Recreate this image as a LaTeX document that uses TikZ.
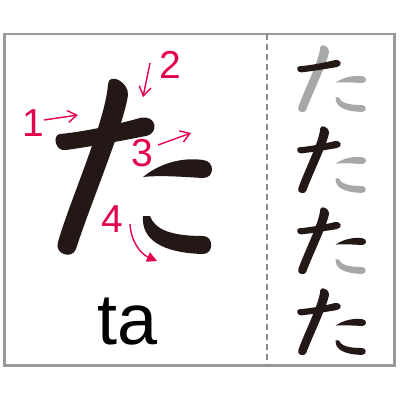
\documentclass[tikz,border=0pt]{standalone}
\usepackage{fontspec}
\setmainfont{Liberation Sans}
\usepackage{tikz}
\usetikzlibrary{arrows.meta}
\definecolor{ink}{HTML}{231815}
\definecolor{faint}{HTML}{A8A8A8}
\definecolor{mark}{HTML}{E4004F}
\definecolor{rulec}{HTML}{999999}
\tikzset{
  frame/.style={draw=rulec,line width=2.5pt},
  divider/.style={draw=rulec!90!black,line width=2pt,dash pattern=on 6pt off 4pt},
  num/.style={text=mark,font=\fontsize{39}{39}\selectfont,inner sep=0pt,anchor=base},
  hint/.style={draw=mark,line width=1.4pt,-{Straight Barb[length=9pt,width=12pt]}},
  hintc/.style={draw=mark,line width=1.4pt,-{Triangle[length=10pt,width=10pt]}},
  romaji/.style={font=\fontsize{72}{72}\selectfont,inner sep=0pt,anchor=base},
}
% the four strokes of ta, one colour each (stroke order 1..4)
\newcommand{\tachar}[4]{%
  \fill[#2] (52,6) .. controls (50,42) and (14,122) .. (2,164)
    .. controls (-2,176) and (16,182) .. (20,171)
    .. controls (34,127) and (68,47) .. (72,17)
    .. controls (73,4) and (53,-6) .. (52,6) -- cycle;
  \fill[#1] (4,56) .. controls (34,53) and (62,46) .. (84,40)
    .. controls (100,36) and (104,55) .. (90,58)
    .. controls (64,63) and (39,68) .. (10,72)
    .. controls (-1,74) and (-4,57) .. (4,56) -- cycle;
  \fill[#3] (87,99) .. controls (104,85) and (127,79) .. (147,82)
    .. controls (159,83) and (159,100) .. (147,100)
    .. controls (129,99) and (104,97) .. (87,99) -- cycle;
  \fill[#4] (87,138) .. controls (85,162) and (107,175) .. (147,176)
    .. controls (158,176) and (158,158) .. (147,158)
    .. controls (116,158) and (99,152) .. (94,138) -- cycle;
}
\begin{document}
\begin{tikzpicture}[x=1pt,y=-1pt]
  \useasboundingbox (0,0) rectangle (400,400);
  \draw[frame] (4.5,34) rectangle (394.5,365.5);
  \draw[divider] (267,34) -- (267,365.5);
  % big character
  \begin{scope}[shift={(56,78)}]
    \tachar{ink}{ink}{ink}{ink}
  \end{scope}
  \node[num] (n1) at (33,136) {1};
  \node[num] (n2) at (170,78) {2};
  \node[num] (n3) at (142,166) {3};
  \node[num] (n4) at (112,232) {4};
  \coordinate (a1s) at (44,120);  \coordinate (a1e) at (78,115);
  \coordinate (a2s) at (150,63);  \coordinate (a2e) at (143,97);
  \coordinate (a3s) at (158,145); \coordinate (a3e) at (191,133);
  \coordinate (a4s) at (130,224); \coordinate (a4e) at (157,261);
  \draw[hint] (a1s) -- (a1e);
  \draw[hint] (a2s) -- (a2e);
  \draw[hint] (a3s) -- (a3e);
  \draw[hintc] (a4s) .. controls (131,242) and (141,254) .. (a4e);
  \node[romaji] (ta) at (128,344) {ta};
  % practice column
  \foreach \k/\ca/\cb/\cc/\cd in {0/ink/faint/faint/faint,1/ink/ink/faint/faint,
      2/ink/ink/ink/faint,3/ink/ink/ink/ink}{
    \begin{scope}[shift={(297.4,45+81*\k)},xscale=0.44,yscale=0.38]
      \tachar{\ca}{\cb}{\cc}{\cd}
    \end{scope}
  }
\end{tikzpicture}
\end{document}
